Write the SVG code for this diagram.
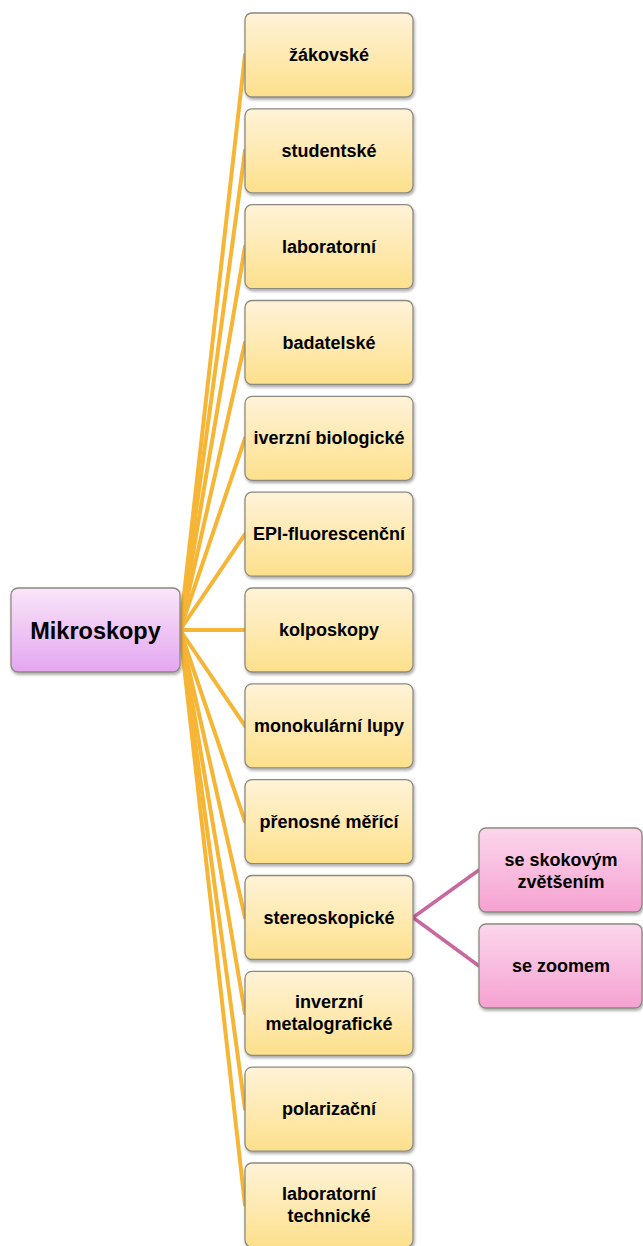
<svg xmlns="http://www.w3.org/2000/svg" width="643" height="1246" viewBox="0 0 643 1246">
<defs>
<linearGradient id="gY" x1="0" y1="0" x2="0" y2="1"><stop offset="0" stop-color="#fff3d8"/><stop offset="1" stop-color="#fde08c"/></linearGradient>
<linearGradient id="gR" x1="0" y1="0" x2="0" y2="1"><stop offset="0" stop-color="#f9e6f9"/><stop offset="1" stop-color="#e4a6f0"/></linearGradient>
<linearGradient id="gP" x1="0" y1="0" x2="0" y2="1"><stop offset="0" stop-color="#fcd6ec"/><stop offset="1" stop-color="#f5a2d1"/></linearGradient>
<filter id="sh" x="-10%" y="-10%" width="125%" height="130%"><feDropShadow dx="1" dy="2" stdDeviation="1.5" flood-color="#000" flood-opacity="0.35"/></filter>
</defs>
<style>
.box{stroke:#8c8a80;stroke-width:1.3;filter:url(#sh)}
.y{fill:url(#gY)}
.r{fill:url(#gR)}
.p{fill:url(#gP)}
text{font-family:"Liberation Sans",Arial,sans-serif;font-weight:bold;fill:#000;text-anchor:middle}
.t{font-size:18px}
.rt{font-size:23.5px}
.oc{stroke:#f7b535;stroke-width:4;fill:none;stroke-linecap:round}
.pc{stroke:#c9679f;stroke-width:3.5;fill:none;stroke-linecap:round}
</style>
<g id="connectors">
<line class="oc" x1="180" y1="630" x2="245" y2="55"/>
<line class="oc" x1="180" y1="630" x2="245" y2="150.8"/>
<line class="oc" x1="180" y1="630" x2="245" y2="246.7"/>
<line class="oc" x1="180" y1="630" x2="245" y2="342.5"/>
<line class="oc" x1="180" y1="630" x2="245" y2="438.3"/>
<line class="oc" x1="180" y1="630" x2="245" y2="534.2"/>
<line class="oc" x1="180" y1="630" x2="245" y2="630"/>
<line class="oc" x1="180" y1="630" x2="245" y2="725.8"/>
<line class="oc" x1="180" y1="630" x2="245" y2="821.6"/>
<line class="oc" x1="180" y1="630" x2="245" y2="917.5"/>
<line class="oc" x1="180" y1="630" x2="245" y2="1013.3"/>
<line class="oc" x1="180" y1="630" x2="245" y2="1109.1"/>
<line class="oc" x1="180" y1="630" x2="245" y2="1205"/>
<line class="pc" x1="413" y1="917.5" x2="479" y2="870"/>
<line class="pc" x1="413" y1="917.5" x2="479" y2="966"/>
</g>
<g id="root"><rect class="box r" x="11" y="588" width="169" height="84" rx="7"/><text class="rt" x="95.5" y="638.5">Mikroskopy</text></g>
<g id="n1"><rect class="box y" x="245" y="13" width="168" height="84" rx="7"/><text class="t" x="329" y="61">žákovské</text></g>
<g id="n2"><rect class="box y" x="245" y="108.8" width="168" height="84" rx="7"/><text class="t" x="329" y="156.8">studentské</text></g>
<g id="n3"><rect class="box y" x="245" y="204.7" width="168" height="84" rx="7"/><text class="t" x="329" y="252.7">laboratorní</text></g>
<g id="n4"><rect class="box y" x="245" y="300.5" width="168" height="84" rx="7"/><text class="t" x="329" y="348.5">badatelské</text></g>
<g id="n5"><rect class="box y" x="245" y="396.3" width="168" height="84" rx="7"/><text class="t" x="329" y="444.3">iverzní biologické</text></g>
<g id="n6"><rect class="box y" x="245" y="492.2" width="168" height="84" rx="7"/><text class="t" x="329" y="540.2">EPI-fluorescenční</text></g>
<g id="n7"><rect class="box y" x="245" y="588" width="168" height="84" rx="7"/><text class="t" x="329" y="636">kolposkopy</text></g>
<g id="n8"><rect class="box y" x="245" y="683.8" width="168" height="84" rx="7"/><text class="t" x="329" y="731.8">monokulární lupy</text></g>
<g id="n9"><rect class="box y" x="245" y="779.6" width="168" height="84" rx="7"/><text class="t" x="329" y="827.6">přenosné měřící</text></g>
<g id="n10"><rect class="box y" x="245" y="875.5" width="168" height="84" rx="7"/><text class="t" x="329" y="923.5">stereoskopické</text></g>
<g id="n11"><rect class="box y" x="245" y="971.3" width="168" height="84" rx="7"/><text class="t" x="329" y="1008.3">inverzní</text><text class="t" x="329" y="1030.3">metalografické</text></g>
<g id="n12"><rect class="box y" x="245" y="1067.1" width="168" height="84" rx="7"/><text class="t" x="329" y="1115.1">polarizační</text></g>
<g id="n13"><rect class="box y" x="245" y="1163" width="168" height="84" rx="7"/><text class="t" x="329" y="1200">laboratorní</text><text class="t" x="329" y="1222">technické</text></g>
<g id="p1"><rect class="box p" x="479" y="828" width="163" height="84" rx="7"/><text class="t" x="561" y="866">se skokovým</text><text class="t" x="561" y="888">zvětšením</text></g>
<g id="p2"><rect class="box p" x="479" y="924" width="163" height="84" rx="7"/><text class="t" x="561" y="972">se zoomem</text></g>
</svg>
